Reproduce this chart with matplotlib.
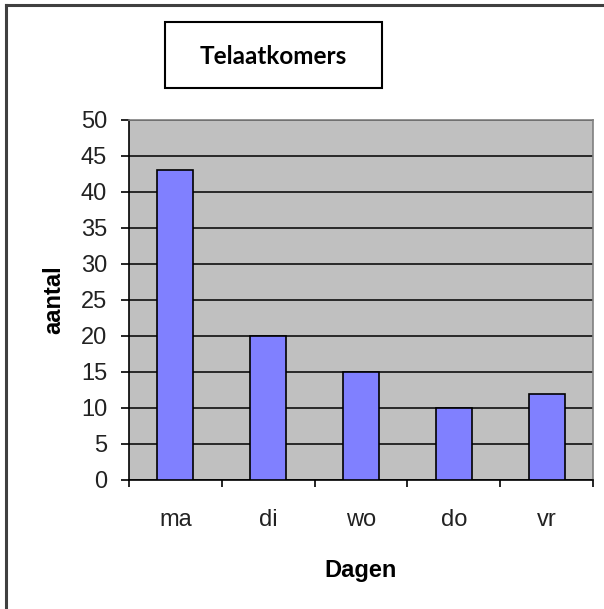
import matplotlib.pyplot as plt
from matplotlib.patches import Rectangle
from matplotlib.lines import Line2D

dagen = ['ma', 'di', 'wo', 'do', 'vr']
aantal = [43, 20, 15, 10, 12]
yticks = list(range(0, 55, 5))

W, H = 604, 609
fig = plt.figure(figsize=(W / 100, H / 100), dpi=100, facecolor='white')

# outer frame (only top and left visible in the crop)
fig.add_artist(Line2D([6 / W, 6 / W], [0, 1 - 5 / H], color='#404040', lw=2.2))
fig.add_artist(Line2D([6 / W, 1], [1 - 5 / H, 1 - 5 / H], color='#404040', lw=2.2))

# plot area
x0, x1, y0, y1 = 129, 593, 120, 480
ax = fig.add_axes([x0 / W, 1 - y1 / H, (x1 - x0) / W, (y1 - y0) / H])
ax.set_facecolor('#C0C0C0')

pos = list(range(len(dagen)))
ax.bar(pos, aantal, width=0.39, color='#8080FF', edgecolor='black', linewidth=1.2, zorder=3)

ax.set_xlim(-0.5, len(dagen) - 0.5)
ax.set_ylim(0, 50)
ax.set_yticks(yticks)
ax.set_yticklabels([str(v) for v in yticks], fontsize=17, family='Liberation Sans', color='#222222')
ax.yaxis.grid(True, color='black', linewidth=1.1, zorder=1)
ax.set_axisbelow(True)

ax.set_xticks([p - 0.5 for p in pos] + [len(dagen) - 0.5])
ax.set_xticklabels([])
ax.set_xticks(pos, minor=True)
ax.set_xticklabels(dagen, minor=True, fontsize=17, family='Liberation Sans', color='#222222')
ax.tick_params(axis='x', which='minor', length=0, pad=21)
ax.tick_params(axis='x', which='major', direction='out', length=5, width=1.2, color='black')
ax.tick_params(axis='y', direction='out', length=5.8, width=1.2, color='black', pad=10)

for side in ['left', 'bottom']:
    ax.spines[side].set_color('black')
    ax.spines[side].set_linewidth(1.2)
for side in ['top', 'right']:
    ax.spines[side].set_color('#808080')
    ax.spines[side].set_linewidth(1.2)

ax.set_xlabel('Dagen', fontsize=17, fontweight='bold', family='Liberation Sans', labelpad=20)
ax.set_ylabel('aantal', fontsize=17, fontweight='bold', family='Liberation Sans', labelpad=11)

# title box
fig.text((165 + 382) / 2 / W, 1 - 57 / H, 'Telaatkomers', fontsize=17.5, fontweight='bold',
         family='Lato', ha='center', va='center')
fig.add_artist(Rectangle((165 / W, 1 - 88 / H), (382 - 165) / W, (88 - 22) / H,
                         fill=False, edgecolor='black', linewidth=1.5, transform=fig.transFigure))

fig.savefig('out.png', dpi=100, facecolor='white')
